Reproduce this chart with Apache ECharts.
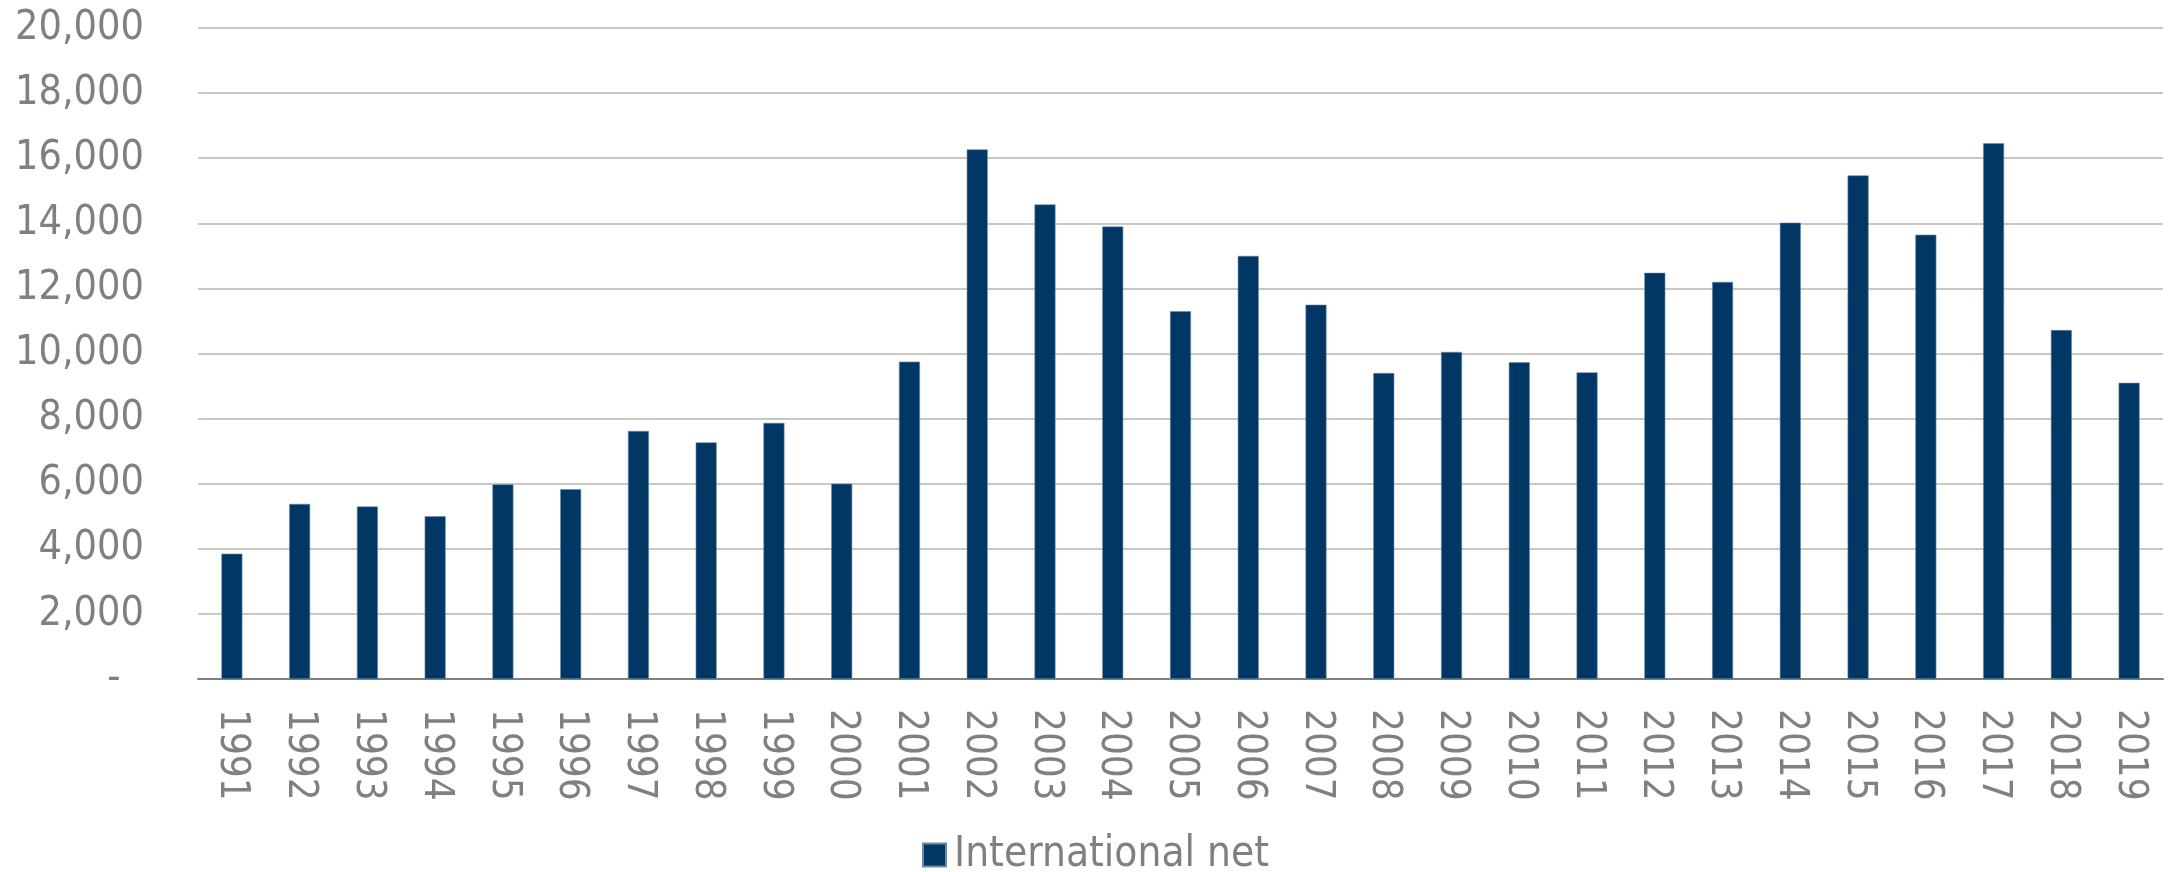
<!DOCTYPE html>
<html>
<head>
<meta charset="utf-8">
<script src="https://cdn.jsdelivr.net/npm/echarts@6/dist/echarts.min.js"></script>
<style>
html,body{margin:0;padding:0;background:#fff;}
#chart{width:2177px;height:872px;}
</style>
</head>
<body>
<div id="chart"></div>
<script>
const years = ['1991','1992','1993','1994','1995','1996','1997','1998','1999','2000','2001','2002','2003','2004','2005','2006','2007','2008','2009','2010','2011','2012','2013','2014','2015','2016','2017','2018','2019'];
const internationalNet = [3850,5380,5300,5000,5980,5830,7620,7270,7870,6000,9750,16270,14580,13900,11300,13000,11500,9400,10050,9730,9420,12480,12200,14020,15470,13650,16460,10720,9100];
const seriesName = 'International net';

const FONT = '"DejaVu Sans Condensed", "DejaVu Sans", sans-serif';
const chart = echarts.init(document.getElementById('chart'));
chart.setOption({
  animation: false,
  backgroundColor: '#ffffff',
  grid: { left: 198, right: 14, top: 28, bottom: 193, containLabel: false },
  legend: {
    data: [seriesName],
    left: 917,
    top: 829,
    itemWidth: 23,
    itemHeight: 23,
    itemGap: 10,
    icon: 'rect',
    textStyle: { color: '#808080', fontSize: 42, fontFamily: FONT, padding: [0, 0, 0, 3] }
  },
  xAxis: {
    type: 'category',
    data: years,
    axisLine: { lineStyle: { color: '#808080', width: 2 } },
    axisTick: { show: false },
    axisLabel: { rotate: -90, color: '#808080', fontSize: 40, fontFamily: FONT, margin: 30, interval: 0 }
  },
  yAxis: {
    type: 'value',
    min: 0,
    max: 20000,
    interval: 2000,
    axisLine: { show: false },
    axisTick: { show: false },
    splitLine: { lineStyle: { color: '#c8c8c0', width: 2 } },
    axisLabel: {
      color: '#808080', fontSize: 41, fontFamily: FONT, margin: 54,
      formatter: v => v === 0 ? '-  ' : v.toLocaleString('en-US')
    }
  },
  series: [{
    name: seriesName,
    type: 'bar',
    data: internationalNet,
    barWidth: 21,
    itemStyle: { color: '#003764', borderColor: '#6f8aa6', borderWidth: 0.6 }
  }]
});
</script>
</body>
</html>
